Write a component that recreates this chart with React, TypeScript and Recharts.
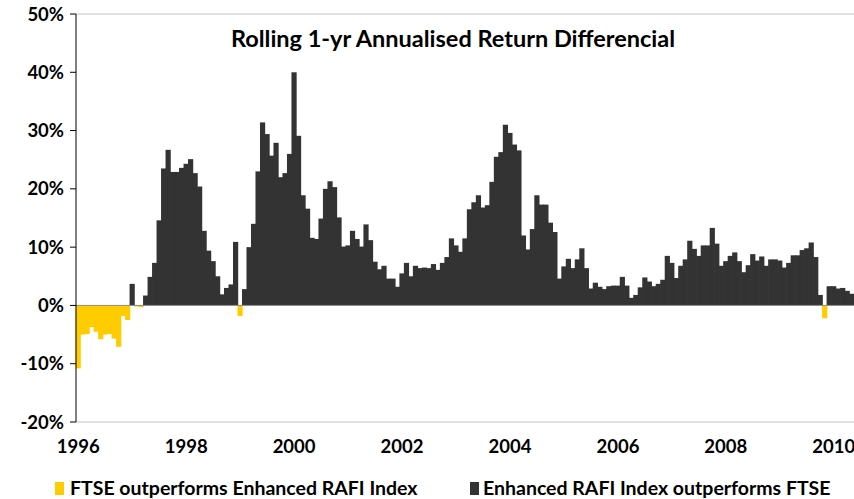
import React from "react";
import { BarChart, Bar, XAxis, YAxis, ReferenceLine } from "recharts";

// monthly rolling 1-yr return differential (%), Jan 1996 .. May 2010
const startYear = 1996;
const differential = [
  -10.8, -5.0, -4.9, -3.7, -4.5, -5.8, -5.0, -4.9, -5.7, -7.1, -1.8, -2.5,
  3.7, -0.2, -0.3, 1.7, 4.9, 7.3, 14.6, 23.5, 26.7, 22.9, 22.9, 23.6,
  24.3, 25.1, 22.7, 20.4, 12.8, 9.4, 7.6, 5.0, 1.9, 3.0, 3.6, 10.9,
  -1.8, 2.8, 10.0, 14.0, 23.0, 31.4, 29.4, 25.7, 27.9, 22.0, 22.7, 26.0,
  40.0, 29.1, 18.9, 16.6, 11.6, 11.4, 14.9, 20.0, 21.3, 20.3, 15.1, 10.1,
  10.3, 12.8, 11.4, 10.1, 13.9, 11.2, 7.5, 6.2, 6.8, 4.6, 4.6, 3.2,
  5.5, 7.3, 5.0, 6.8, 6.4, 6.5, 6.4, 7.1, 6.1, 7.3, 8.3, 11.5,
  10.3, 9.2, 11.5, 16.5, 17.7, 18.9, 16.8, 17.2, 21.2, 25.5, 26.3, 31.0,
  29.6, 27.6, 26.6, 12.0, 9.6, 13.1, 18.9, 17.3, 17.3, 14.2, 12.6, 4.6,
  6.7, 8.0, 6.4, 7.9, 9.8, 6.4, 2.9, 3.9, 3.2, 2.8, 3.3, 3.4,
  3.4, 4.9, 3.4, 1.3, 1.8, 3.1, 4.8, 4.1, 3.3, 3.7, 4.4, 8.5,
  7.3, 4.7, 6.8, 7.9, 11.1, 9.7, 8.5, 10.3, 10.3, 13.3, 10.6, 6.8,
  7.6, 8.5, 9.1, 7.6, 5.7, 6.9, 8.8, 7.7, 8.4, 6.8, 7.9, 7.9,
  7.7, 6.5, 7.3, 8.6, 8.6, 9.5, 9.8, 10.8, 8.3, 1.8, -2.2, 3.3,
  3.3, 2.9, 3.0, 2.5, 2.0,
];
const yTicks = [-20, -10, 0, 10, 20, 30, 40, 50];
const seriesNames = ["FTSE outperforms Enhanced RAFI Index", "Enhanced RAFI Index outperforms FTSE"];
const title = "Rolling 1-yr Annualised Return Differencial";

const YELLOW = "#FFCC00";
const DARK = "#333333";
const FONT = "Lato, 'Liberation Sans', sans-serif";

const data = differential.map((v, i) => {
  const y = startYear + Math.floor(i / 12);
  const m = (i % 12) + 1;
  return {
    month: `${y}-${m < 10 ? "0" + m : m}`,
    under: v < 0 ? v : 0,
    over: v >= 0 ? v : 0,
  };
});

const tickStyle = { fontSize: 18.5, fontWeight: 700, fill: "#000", fontFamily: FONT };

// recharts truncates the bar width to whole pixels; widen a little so the bars touch
const SolidBar = (props: any) => {
  const { x, y, width, height, fill } = props;
  if (!height) return null;
  const top = Math.min(y, y + height);
  return <rect x={x - 0.4} y={top} width={width + 1.2} height={Math.abs(height)} fill={fill} />;
};

export default function App() {
  return (
    <div style={{ position: "absolute", left: 0, top: 0, width: 854, height: 499, fontFamily: FONT }}>
      <BarChart width={854} height={499} data={data} margin={{ top: 14, right: 0, left: 0, bottom: 0 }}
        barCategoryGap={0} stackOffset="sign">
        <XAxis dataKey="month" interval={23} tickLine={false} axisLine={{ stroke: "#c4c4c4" }}
          height={77} tickSize={6} tickMargin={12} tick={tickStyle}
          tickFormatter={(v: string) => v.slice(0, 4)} />
        <YAxis width={76} domain={[-20, 50]} ticks={yTicks} interval={0}
          tickFormatter={(v: number) => `${v}%`} axisLine={{ stroke: "#000" }}
          tickLine={{ stroke: "#000" }} tickSize={6} tickMargin={6} tick={tickStyle} />
        <ReferenceLine y={50} stroke="#c4c4c4" />
        <Bar dataKey="under" name={seriesNames[0]} stackId="d" fill={YELLOW} shape={SolidBar} isAnimationActive={false} />
        <Bar dataKey="over" name={seriesNames[1]} stackId="d" fill={DARK} shape={SolidBar} isAnimationActive={false} />
        <ReferenceLine y={0} stroke="#8c8c8c" />
      </BarChart>
      <div style={{ position: "absolute", left: 0, width: 906, top: 24, textAlign: "center", fontSize: 23.5, fontWeight: 700, color: "#000", whiteSpace: "nowrap" }}>
        {title}
      </div>
      <div style={{ position: "absolute", left: 55, top: 482, width: 9, height: 13, background: YELLOW }} />
      <div style={{ position: "absolute", left: 70, top: 476, fontSize: 19.5, fontWeight: 700, whiteSpace: "nowrap" }}>{seriesNames[0]}</div>
      <div style={{ position: "absolute", left: 470, top: 482, width: 9, height: 13, background: DARK }} />
      <div style={{ position: "absolute", left: 483, top: 476, fontSize: 19.5, fontWeight: 700, whiteSpace: "nowrap" }}>{seriesNames[1]}</div>
    </div>
  );
}
